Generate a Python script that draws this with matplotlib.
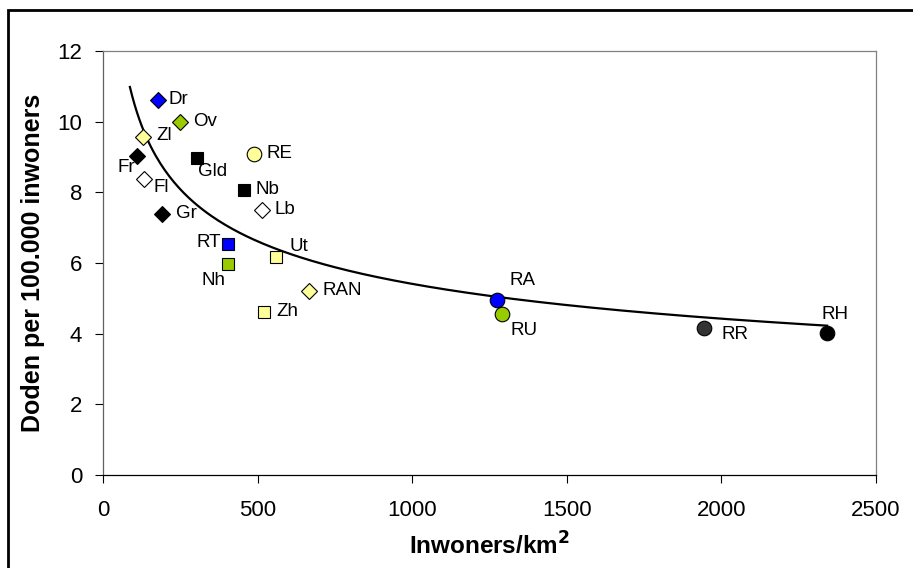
import numpy as np
import matplotlib
matplotlib.use("Agg")
import matplotlib.pyplot as plt
from matplotlib.patches import Rectangle

plt.rcParams['font.family'] = ['Liberation Sans', 'DejaVu Sans']

# regions / provinces
names = ["Dr", "Ov", "Zl", "Fr", "Fl", "Gr", "Lb", "RAN",
         "Gld", "Nb", "RT", "Nh", "Ut", "Zh",
         "RE", "RA", "RU", "RR", "RH"]
density = [178, 249, 129, 110, 133, 191, 514, 666,
           304, 456, 404, 404, 560, 521,
           488, 1274, 1290, 1944, 2342]
deaths = [10.62, 10.0, 9.58, 9.04, 8.39, 7.39, 7.51, 5.21,
          8.98, 8.07, 6.54, 5.98, 6.18, 4.62,
          9.09, 4.96, 4.56, 4.16, 4.02]
markers = ["D"] * 8 + ["s"] * 6 + ["o"] * 5
colors = ["#0000FF", "#99CC00", "#FFFF99", "#000000", "#FFFFFF", "#000000", "#FFFFFF", "#FFFF99",
          "#000000", "#000000", "#0000FF", "#99CC00", "#FFFF99", "#FFFF99",
          "#FFFF99", "#0000FF", "#99CC00", "#333333", "#000000"]

# power trendline y = a * x^b
trend_a = 40.1
trend_b = -0.29
trend_range = (87, 2342)

# label offsets in pixels (dx, dy, ha)
offsets = {
    "Dr": (10, 0, "left"), "Ov": (13, 0, "left"), "Zl": (13, 1, "left"),
    "Fr": (-2, -12, "right"), "Fl": (9, -9, "left"), "Gr": (14, 0, "left"),
    "Lb": (13, 0, "left"), "RAN": (14, 0, "left"), "Gld": (1, -14, "left"),
    "Nb": (12, 0, "left"), "RT": (-7, 1, "right"), "Nh": (-14, -17, "center"),
    "Ut": (13, 10, "left"), "Zh": (12, 0, "left"), "RE": (13, 0, "left"),
    "RA": (13, 19, "left"), "RU": (9, -17, "left"), "RR": (17, -6, "left"),
    "RH": (-6, 18, "left"),
}

fig = plt.figure(figsize=(9.13, 5.68), dpi=100)
fig.patches.append(Rectangle((8 / 913, -0.1), 1.1, 1.1 - 10 / 568,
                             transform=fig.transFigure, fill=False,
                             edgecolor="black", linewidth=2))
ax = fig.add_axes([103 / 913, 1 - 475 / 568, (876 - 103) / 913, (475 - 51) / 568])

xs = np.linspace(trend_range[0], trend_range[1], 300)
ax.plot(xs, trend_a * xs ** trend_b, color="black", linewidth=1.6, zorder=2)

for n, x, y, m, c in zip(names, density, deaths, markers, colors):
    ms = {"D": 8, "s": 8.5, "o": 10.5}[m]
    ax.plot(x, y, marker=m, color=c, markeredgecolor="black", markeredgewidth=0.8,
            markersize=ms, linestyle="none", zorder=3)
    dx, dy, ha = offsets[n]
    ax.annotate(n, (x, y), xytext=(dx * 0.72, dy * 0.72), textcoords="offset points",
                ha=ha, va="center", fontsize=13.5)

ax.set_xlim(0, 2500)
ax.set_ylim(0, 12)
ax.set_xticks(range(0, 2501, 500))
ax.set_yticks(range(0, 13, 2))
ax.tick_params(labelsize=16, direction="out", length=6, width=0.8)
ax.tick_params(axis="x", pad=12)
ax.tick_params(axis="y", pad=9)
ax.spines["top"].set_color("#808080")
ax.spines["right"].set_color("#808080")
ax.spines["left"].set_color("#606060")
for s in ax.spines.values():
    s.set_linewidth(0.9)
ax.set_xlabel("Inwoners/km$^\\mathbf{2}$", fontsize=17.5, fontweight="bold", labelpad=8)
ax.set_ylabel("Doden per 100.000 inwoners", fontsize=18, fontweight="bold", labelpad=9)

fig.savefig("out.png", dpi=100)
